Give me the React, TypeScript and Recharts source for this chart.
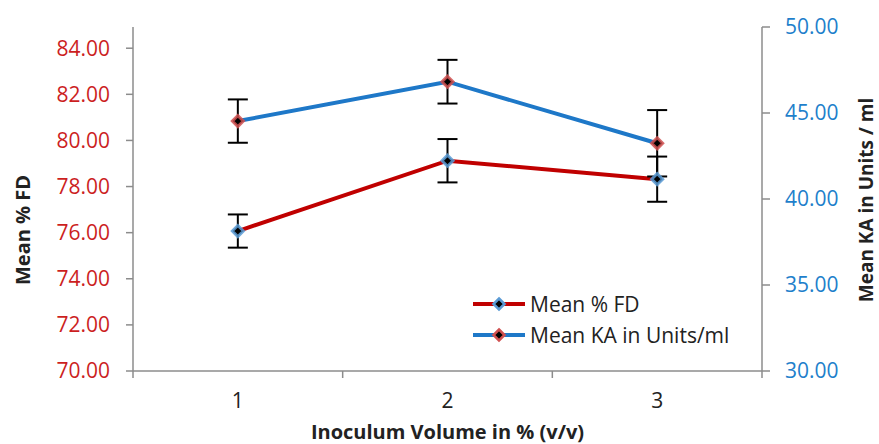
import React from 'react';
import { ComposedChart, Line, XAxis, YAxis, ErrorBar, Legend } from 'recharts';

const categories = [1, 2, 3];
const fdMean = [76.07, 79.12, 78.32];
const fdErr = [0.72, 0.94, 0.98];
const kaMean = [44.53, 46.82, 43.24];
const kaErr = [1.26, 1.27, 1.93];
const fdTicks = [70, 72, 74, 76, 78, 80, 82, 84];
const kaTicks = [30, 35, 40, 45, 50];
const xTicks = [0.5, 1, 1.5, 2, 2.5, 3, 3.5];
const fdName = 'Mean % FD';
const kaName = 'Mean KA in Units/ml';
const xTitle = 'Inoculum Volume in % (v/v)';
const leftTitle = 'Mean % FD';
const rightTitle = 'Mean KA in Units / ml';

const data = categories.map((c, i) => ({
  x: c,
  fd: fdMean[i],
  fdErr: fdErr[i],
  ka: kaMean[i],
  kaErr: kaErr[i],
}));

const FONT = '"Open Sans", sans-serif';
const RED = '#C00000';
const BLUE = '#1E78C8';
const AXIS = '#8C8C8C';

const makeDiamond = (outline: string) => (props: any) => {
  const { cx, cy, index } = props;
  if (cx == null || cy == null) return <g key={index} />;
  const r = 5.5;
  return (
    <polygon
      key={index}
      points={`${cx},${cy - r} ${cx + r},${cy} ${cx},${cy + r} ${cx - r},${cy}`}
      fill="#000"
      stroke={outline}
      strokeWidth={3}
      strokeOpacity={0.85}
    />
  );
};

const XTick = (props: any) => {
  const { x, y, payload } = props;
  const v = payload.value;
  if (Number.isInteger(v)) {
    return (
      <text x={x} y={y + 29} textAnchor="middle" dominantBaseline="central" fontFamily={FONT} fontSize={21} fill="#222">
        {v}
      </text>
    );
  }
  return <line x1={x} x2={x} y1={y} y2={y + 7} stroke={AXIS} strokeWidth={1.5} />;
};

const LegendContent = () => {
  const items = [
    { name: fdName, line: RED, outline: '#5B9BD5' },
    { name: kaName, line: BLUE, outline: '#D05050' },
  ];
  return (
    <div style={{ fontFamily: FONT, fontSize: 21, color: '#222' }}>
      {items.map((it) => (
        <div key={it.name} style={{ display: 'flex', alignItems: 'center', height: 31 }}>
          <svg width={58} height={20} style={{ marginRight: 2 }}>
            <line x1={3} x2={55} y1={10} y2={10} stroke={it.line} strokeWidth={4} />
            <polygon points="29,4.5 34.5,10 29,15.5 23.5,10" fill="#000" stroke={it.outline} strokeWidth={2.5} />
          </svg>
          <span style={{ whiteSpace: 'nowrap' }}>{it.name}</span>
        </div>
      ))}
    </div>
  );
};

export default function App() {
  return (
    <div style={{ position: 'absolute', left: 0, top: 0, width: 879, height: 444, background: '#fff' }}>
      <ComposedChart width={879} height={444} data={data} margin={{ top: 27, right: 0, bottom: 0, left: 0 }}>
        <XAxis
          dataKey="x"
          type="number"
          domain={[0.5, 3.5]}
          ticks={xTicks}
          interval={0}
          tickLine={false}
          tickSize={0}
          tickMargin={0}
          tick={<XTick />}
          axisLine={{ stroke: AXIS, strokeWidth: 1.5 }}
          height={73}
          label={(p: any) => {
            const vb = p.viewBox;
            return (
              <text x={vb.x + vb.width / 2} y={vb.y + 60} textAnchor="middle" dominantBaseline="central" fontFamily={FONT} fontSize={20} fontWeight="bold" fill="#222">
                {xTitle}
              </text>
            );
          }}
        />
        <YAxis
          yAxisId="l"
          domain={[70, 84.92]}
          ticks={fdTicks}
          interval={0}
          allowDataOverflow
          width={133}
          tickSize={7}
          tickMargin={16}
          tickFormatter={(v: number) => v.toFixed(2)}
          tick={{ fill: '#CC1F1F', fontFamily: FONT, fontSize: 21 }}
          tickLine={{ stroke: AXIS, strokeWidth: 1.5 }}
          axisLine={{ stroke: AXIS, strokeWidth: 1.5 }}
          label={(p: any) => {
            const vb = p.viewBox;
            return (
              <text x={vb.x + 22} y={vb.y + 203} textAnchor="middle" dominantBaseline="central" transform={`rotate(-90 ${vb.x + 22} ${vb.y + 203})`} fontFamily={FONT} fontSize={20} fontWeight="bold" fill="#222">
                {leftTitle}
              </text>
            );
          }}
        />
        <YAxis
          yAxisId="r"
          orientation="right"
          domain={[30, 50]}
          ticks={kaTicks}
          interval={0}
          allowDataOverflow
          width={117}
          tickSize={8}
          tickMargin={15}
          tickFormatter={(v: number) => v.toFixed(2)}
          tick={{ fill: '#1E7FCB', fontFamily: FONT, fontSize: 21, textAnchor: 'start' }}
          tickLine={{ stroke: AXIS, strokeWidth: 1.5 }}
          axisLine={{ stroke: AXIS, strokeWidth: 1.5 }}
          label={(p: any) => {
            const vb = p.viewBox;
            return (
              <text x={vb.x + 104} y={vb.y + 173} textAnchor="middle" dominantBaseline="central" transform={`rotate(-90 ${vb.x + 104} ${vb.y + 173})`} fontFamily={FONT} fontSize={19} fontWeight="bold" fill="#222">
                {rightTitle}
              </text>
            );
          }}
        />
        <Legend
          layout="horizontal"
          verticalAlign="middle"
          align="center"
          content={<LegendContent />}
          wrapperStyle={{ left: 470, top: 288, width: 300, height: 64 }}
        />
        <Line
          yAxisId="l"
          dataKey="fd"
          name={fdName}
          stroke={RED}
          strokeWidth={4}
          isAnimationActive={false}
          dot={makeDiamond('#5B9BD5')}
          activeDot={false}
        >
          <ErrorBar dataKey="fdErr" direction="y" width={10} strokeWidth={2} stroke="#000" isAnimationActive={false} />
        </Line>
        <Line
          yAxisId="r"
          dataKey="ka"
          name={kaName}
          stroke={BLUE}
          strokeWidth={4}
          isAnimationActive={false}
          dot={makeDiamond('#D05050')}
          activeDot={false}
        >
          <ErrorBar dataKey="kaErr" direction="y" width={10} strokeWidth={2} stroke="#000" isAnimationActive={false} />
        </Line>
      </ComposedChart>
    </div>
  );
}
